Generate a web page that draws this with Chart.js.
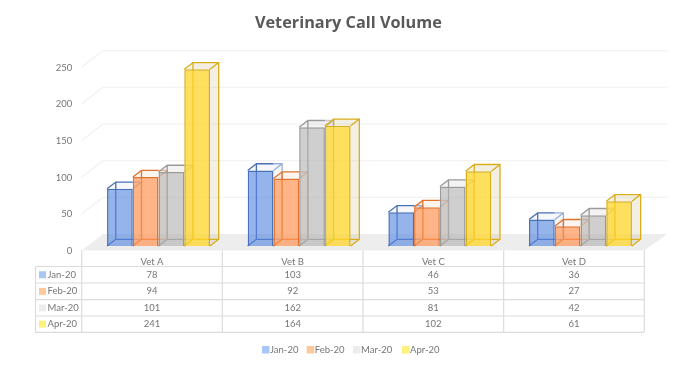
<!DOCTYPE html>
<html><head><meta charset="utf-8">
<style>html,body{margin:0;padding:0;background:#fff}#w{width:700px;height:367px;position:relative}</style>
<script src="https://cdn.jsdelivr.net/npm/chart.js@4"></script></head>
<body><div id="w"><canvas id="c" width="700" height="367"></canvas></div>
<script>
const categories = ['Vet A','Vet B','Vet C','Vet D'];
const jan20 = [78,103,46,36];
const feb20 = [94,92,53,27];
const mar20 = [101,162,81,42];
const apr20 = [241,164,102,61];
const seriesNames = ['Jan-20','Feb-20','Mar-20','Apr-20'];
const seriesValues = [jan20,feb20,mar20,apr20];
const yTicks = [0,50,100,150,200,250];
const fills = ['rgba(84,134,224,.62)','rgba(255,150,84,.7)','rgba(178,178,178,.62)','rgba(255,214,40,.75)'];
const edges = ['#4a70b8','#e2732f','#9a9a9a','#d9ae1c'];
const pale = ['rgba(120,140,190,.07)','rgba(220,150,100,.10)','rgba(160,160,160,.12)','rgba(190,170,100,.18)'];
const swatches = ['#a9c6f5','#fdc99c','#ededed','#fff27a'];
const sideAlpha = [.55,.5,.5,1];
const FONT = 'Lato';
const TEXT = '#767676';
const DX = 8.7, DY = 6.7;

const scene = {
  id:'scene',
  beforeDatasetsDraw(chart){
    const {ctx,scales:{x,y}} = chart;
    const x0 = x.left-6.5, x1 = x.right-6.5;
    const front = 4.5, back = -12, sideX = 21.2, sideR = 23;
    ctx.save();
    ctx.strokeStyle='#f3f3f3'; ctx.lineWidth=1.4;
    yTicks.forEach(v=>{
      if(!v) return;
      const p=y.getPixelForValue(v);
      ctx.beginPath();
      ctx.moveTo(x0,p+front); ctx.lineTo(x0+sideX,p+back); ctx.lineTo(x1+sideR,p+back); ctx.stroke();
    });
    const b=y.getPixelForValue(0);
    ctx.fillStyle='#ededed';
    ctx.beginPath();
    ctx.moveTo(x0,b+front); ctx.lineTo(x1,b+front); ctx.lineTo(x1+sideR,b+back); ctx.lineTo(x0+sideX,b+back); ctx.closePath(); ctx.fill();
    seriesValues.forEach((vals,d)=>{
      chart.getDatasetMeta(d).data.forEach(el=>{
        const l=el.x-el.width/2, r=el.x+el.width/2, t=el.y, f=el.base;
        ctx.fillStyle=pale[d];
        ctx.beginPath(); ctx.moveTo(r,t); ctx.lineTo(r+DX,t-DY); ctx.lineTo(r+DX,f-DY); ctx.lineTo(r,f); ctx.closePath(); ctx.fill();
        ctx.beginPath(); ctx.moveTo(l,t); ctx.lineTo(l+DX,t-DY); ctx.lineTo(r+DX,t-DY); ctx.lineTo(r,t); ctx.closePath(); ctx.fill();
        ctx.strokeStyle=edges[d]; ctx.lineWidth=1.3;
        ctx.globalAlpha=1;
        ctx.beginPath();
        ctx.moveTo(l,t); ctx.lineTo(l+DX,t-DY); ctx.lineTo(r,t-DY);
        ctx.moveTo(l+DX,t-DY); ctx.lineTo(l+DX,f-DY); ctx.lineTo(r,f-DY);
        ctx.moveTo(l,f); ctx.lineTo(l+DX,f-DY);
        ctx.stroke();
        ctx.globalAlpha=sideAlpha[d];
        ctx.beginPath();
        ctx.moveTo(r,t-DY); ctx.lineTo(r+DX,t-DY); ctx.lineTo(r+DX,f-DY); ctx.lineTo(r,f);
        ctx.moveTo(r,t); ctx.lineTo(r+DX,t-DY);
        ctx.moveTo(r,f-DY); ctx.lineTo(r+DX,f-DY);
        ctx.stroke();
        ctx.globalAlpha=1;
      });
    });
    ctx.restore();
  },
  afterDraw(chart){
    const {ctx,scales:{x}} = chart;
    ctx.save();
    const step=x.getPixelForTick(1)-x.getPixelForTick(0);
    const left=x.getPixelForTick(0)-6.5-step/2;
    const rows=[266.5,283,299.7,316,332.3];
    const n=categories.length;
    ctx.strokeStyle='#dcdcdc'; ctx.lineWidth=1.2;
    ctx.beginPath();
    for(let i=0;i<=n;i++){const vx=left+i*step; ctx.moveTo(vx,250.5); ctx.lineTo(vx,rows[4]);}
    ctx.moveTo(35.5,rows[0]); ctx.lineTo(35.5,rows[4]);
    rows.forEach(r=>{ctx.moveTo(35.5,r); ctx.lineTo(left+n*step,r);});
    ctx.stroke();
    ctx.font='9.5px '+FONT; ctx.textBaseline='middle';
    seriesNames.forEach((nm,d)=>{
      const cy=(rows[d]+rows[d+1])/2;
      ctx.fillStyle=swatches[d]; ctx.fillRect(39,cy-3.5,7,7);
      ctx.fillStyle=TEXT; ctx.textAlign='left'; ctx.fillText(nm,47.5,cy);
      ctx.textAlign='center';
      seriesValues[d].forEach((v,i)=>ctx.fillText(String(v),left+step*(i+.5),cy));
    });
    const legX=[262,306.7,353,402];
    seriesNames.forEach((nm,d)=>{
      ctx.fillStyle=swatches[d]; ctx.fillRect(legX[d],346,7.5,7.5);
      ctx.fillStyle=TEXT; ctx.textAlign='left'; ctx.fillText(nm,legX[d]+8,349.5);
    });
    ctx.restore();
  }
};

new Chart(document.getElementById('c'),{
  type:'bar',
  data:{labels:categories,datasets:seriesNames.map((nm,d)=>({
    label:nm,data:seriesValues[d],backgroundColor:fills[d],borderColor:edges[d],borderWidth:1.5,
    barPercentage:1,categoryPercentage:.732
  }))},
  options:{
    responsive:false,animation:false,
    layout:{padding:{left:46,right:49.2,top:0,bottom:0}},
    plugins:{
      legend:{display:false},tooltip:{enabled:false},
      title:{display:true,text:'Veterinary Call Volume',color:'#595959',
        font:{family:'"Open Sans"',size:16.3,weight:'bold',lineHeight:1.2},padding:{top:13.4,bottom:29.7}}
    },
    scales:{
      x:{grid:{display:false,drawTicks:false},border:{display:false},
        ticks:{color:TEXT,font:{family:FONT,size:9.5},padding:10,labelOffset:-6.5,maxRotation:0},
        afterFit(s){s.height=121;}},
      y:{min:0,max:250,grid:{display:false,drawTicks:false},border:{display:false},
        afterBuildTicks(s){s.ticks=yTicks.map(v=>({value:v}));},
        ticks:{color:TEXT,font:{family:FONT,size:9.5},padding:16,labelOffset:5},
        afterFit(s){s.width=42.2;}}
    }
  },
  plugins:[scene]
});
</script></body></html>
